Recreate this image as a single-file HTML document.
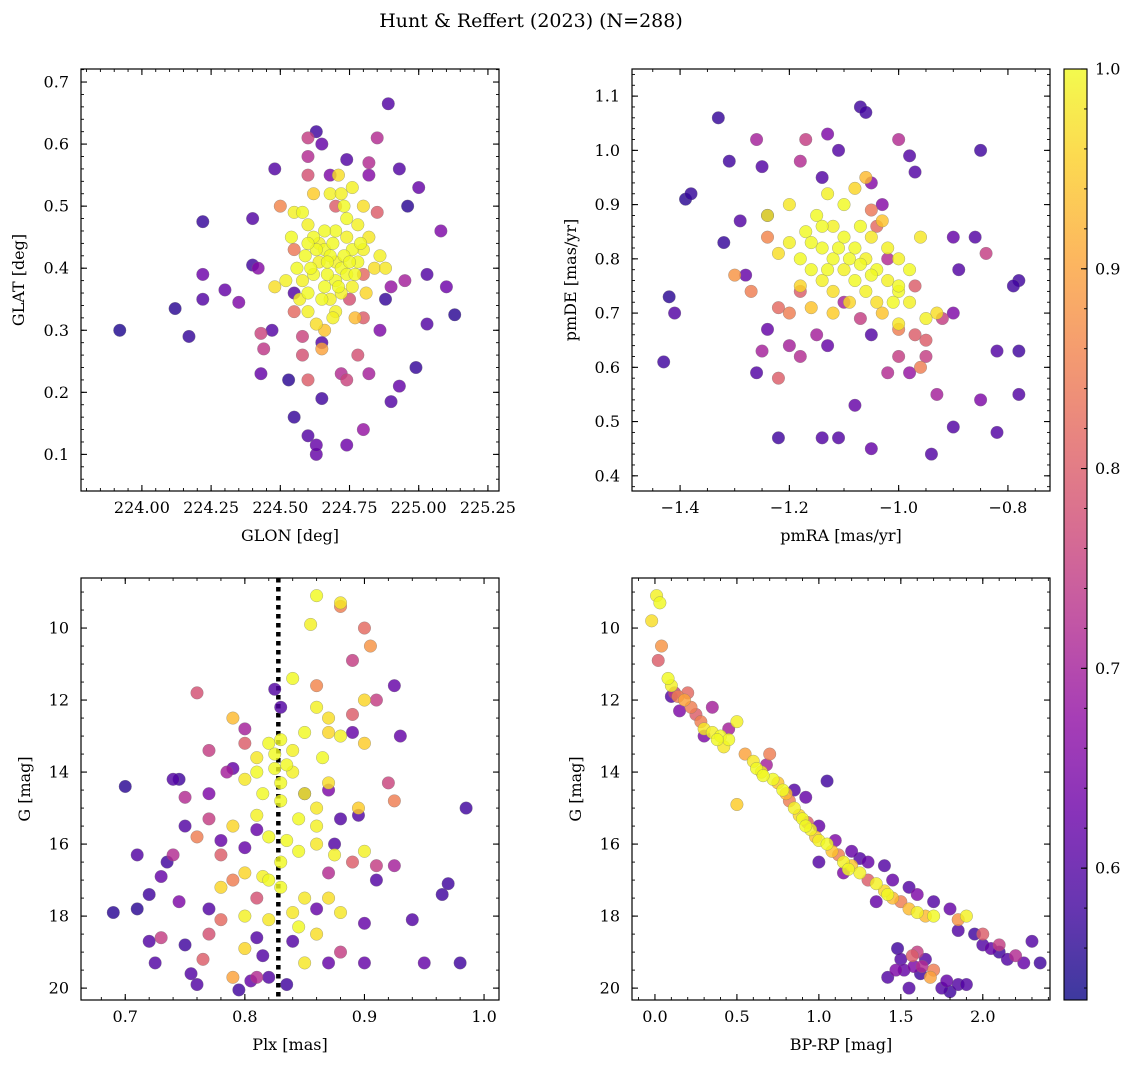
<!DOCTYPE html>
<html><head><meta charset="utf-8">
<style>
body{margin:0;background:#fff;}
svg text{font-family:"DejaVu Serif","Liberation Serif",serif;fill:#000;}
</style></head>
<body>
<svg id="chart" width="1136" height="1068" xmlns="http://www.w3.org/2000/svg">
<defs>
<linearGradient id="plasma" x1="0" y1="1" x2="0" y2="0"></linearGradient>
</defs>
<text x="531" y="27" text-anchor="middle" font-size="19">Hunt &amp; Reffert (2023) (N=288)</text>
</svg>
<script>
// ---- data: [x, y, membership probability]
const skyPoints = [[223.92,0.30,.55],[224.12,0.335,.56],[224.17,0.29,.57],[224.22,0.475,.57],[224.22,0.39,.63],[224.22,0.35,.6],[224.3,0.365,.62],[224.35,0.345,.65],[224.4,0.405,.58],[224.4,0.48,.6],[224.42,0.4,.66],[224.43,0.295,.76],[224.44,0.27,.74],[224.43,0.23,.62],[224.47,0.3,.6],[224.48,0.56,.6],[224.53,0.22,.56],[224.55,0.16,.57],[224.55,0.36,.6],[224.6,0.61,.75],[224.63,0.62,.58],[224.65,0.6,.62],[224.6,0.13,.6],[224.63,0.1,.62],[224.63,0.115,.62],[224.65,0.19,.58],[224.68,0.55,.65],[224.74,0.575,.6],[224.74,0.115,.63],[224.8,0.14,.68],[224.82,0.55,.66],[224.85,0.61,.72],[224.89,0.665,.6],[224.9,0.185,.6],[224.93,0.21,.62],[224.93,0.56,.6],[224.96,0.5,.56],[224.99,0.24,.57],[225.0,0.53,.62],[225.03,0.39,.6],[225.03,0.31,.6],[225.08,0.46,.65],[225.1,0.37,.63],[225.13,0.325,.56],[224.88,0.35,.57],[224.86,0.3,.65],[224.9,0.37,.68],[224.95,0.38,.7],[224.78,0.26,.78],[224.82,0.23,.7],[224.72,0.23,.72],[224.74,0.22,.76],[224.58,0.26,.78],[224.6,0.22,.8],[224.55,0.33,.82],[224.5,0.5,.86],[224.55,0.43,.84],[224.6,0.55,.78],[224.7,0.5,.8],[224.8,0.32,.8],[224.58,0.29,.76],[224.65,0.28,.6],[224.82,0.57,.72],[224.85,0.49,.8],[224.6,0.58,.72],[224.75,0.35,.78],[224.8,0.39,.82],
[224.58,0.49,1],[224.6,0.47,.99],[224.62,0.45,1],[224.64,0.44,.99],[224.66,0.43,1],[224.68,0.42,1],[224.7,0.41,.99],[224.72,0.4,1],[224.74,0.45,.99],[224.76,0.43,1],[224.78,0.47,.99],[224.8,0.5,.97],[224.56,0.4,1],[224.58,0.38,.99],[224.6,0.36,1],[224.62,0.39,1],[224.64,0.41,.99],[224.66,0.37,1],[224.68,0.35,.99],[224.7,0.38,1],[224.72,0.36,.99],[224.74,0.39,1],[224.76,0.37,.99],[224.78,0.41,1],[224.8,0.43,.99],[224.82,0.45,.98],[224.84,0.4,.97],[224.86,0.42,.99],[224.6,0.33,.99],[224.63,0.31,.97],[224.66,0.3,.94],[224.7,0.33,.99],[224.73,0.5,1],[224.68,0.52,.99],[224.71,0.55,.97],[224.76,0.53,.99],[224.54,0.45,1],[224.52,0.38,.99],[224.55,0.49,.99],[224.48,0.37,.97],[224.62,0.52,.95],[224.77,0.32,.93],[224.65,0.27,.9],[224.7,0.46,1],[224.74,0.48,1],[224.88,0.4,.98],[224.59,0.42,1],[224.67,0.39,1],[224.73,0.42,1],[224.81,0.36,.96],[224.63,0.43,1],[224.69,0.44,1],[224.71,0.37,1],[224.65,0.35,1],[224.75,0.41,1],[224.57,0.35,.99],[224.61,0.4,1],[224.66,0.46,1],[224.72,0.52,.99],[224.79,0.44,1],[224.69,0.32,.99],[224.77,0.39,1],[224.6,0.44,1],[224.67,0.41,1]];
const pmPoints = [[-1.42,0.73,.56],[-1.39,0.91,.56],[-1.38,0.92,.57],[-1.33,1.06,.57],[-1.32,0.83,.57],[-1.41,0.70,.6],[-1.43,0.61,.58],[-1.31,0.98,.58],[-1.29,0.87,.6],[-1.28,0.77,.62],[-1.27,0.74,.85],[-1.26,1.02,.7],[-1.25,0.97,.6],[-1.24,0.88,.6],[-1.24,0.67,.62],[-1.26,0.59,.6],[-1.25,0.63,.7],[-1.22,0.47,.58],[-1.22,0.58,.8],[-1.18,0.98,.72],[-1.17,1.02,.75],[-1.14,0.95,.6],[-1.13,1.03,.65],[-1.11,1.0,.6],[-1.07,1.08,.58],[-1.06,1.07,.58],[-1.05,0.94,.66],[-1.03,0.9,.66],[-1.0,1.02,.72],[-0.98,0.99,.6],[-0.97,0.96,.6],[-0.85,1.0,.58],[-0.86,0.84,.6],[-0.84,0.81,.75],[-0.9,0.84,.62],[-0.89,0.78,.6],[-0.9,0.7,.65],[-0.92,0.69,.75],[-0.78,0.76,.58],[-0.79,0.75,.58],[-0.78,0.63,.58],[-0.82,0.63,.6],[-0.78,0.55,.6],[-0.85,0.54,.65],[-0.82,0.48,.6],[-0.9,0.49,.6],[-0.94,0.44,.6],[-0.93,0.55,.7],[-0.95,0.62,.75],[-0.98,0.59,.68],[-1.0,0.62,.75],[-1.02,0.59,.72],[-1.05,0.45,.62],[-1.08,0.53,.62],[-1.11,0.47,.6],[-1.14,0.47,.6],[-1.13,0.64,.62],[-1.15,0.66,.7],[-1.18,0.62,.72],[-1.2,0.64,.7],[-1.2,0.7,.85],[-1.22,0.71,.82],[-1.18,0.74,.8],[-1.1,0.72,.7],[-1.07,0.69,.75],[-1.05,0.66,.6],[-1.0,0.67,.85],[-0.97,0.66,.8],[-0.95,0.65,.8],[-1.02,0.8,.72],[-1.04,0.86,.82],[-0.97,0.75,.8],[-0.96,0.6,.85],[-1.3,0.77,.88],[-1.24,0.84,.86],[-1.05,0.89,.84],
[-1.15,0.88,1],[-1.12,0.86,.99],[-1.1,0.84,1],[-1.08,0.82,1],[-1.06,0.8,.99],[-1.04,0.78,1],[-1.02,0.76,.99],[-1.0,0.74,1],[-0.98,0.72,.99],[-1.14,0.82,1],[-1.12,0.8,1],[-1.1,0.78,.99],[-1.08,0.76,1],[-1.06,0.74,.99],[-1.04,0.72,.97],[-1.16,0.78,1],[-1.14,0.76,.99],[-1.12,0.74,.97],[-1.18,0.8,1],[-1.2,0.83,.99],[-1.22,0.81,.97],[-1.1,0.9,1],[-1.08,0.93,.96],[-1.13,0.92,.99],[-1.17,0.85,1],[-1.05,0.84,.98],[-1.03,0.87,.94],[-1.0,0.8,.99],[-0.98,0.78,1],[-0.96,0.84,.98],[-0.95,0.69,.99],[-0.93,0.7,.97],[-1.0,0.68,.98],[-1.03,0.7,.94],[-1.12,0.7,.95],[-1.06,0.95,.93],[-1.24,0.88,.99],[-1.2,0.9,.98],[-1.16,0.71,.94],[-1.09,0.72,.96],[-1.0,0.75,1],[-1.14,0.86,1],[-1.07,0.86,1],[-1.02,0.82,.99],[-1.18,0.75,.96],[-1.11,0.82,1],[-1.09,0.8,1],[-1.05,0.77,1],[-1.13,0.78,1],[-1.01,0.72,1],[-1.16,0.83,1],[-1.07,0.79,1]];
const plxPoints = [[0.86,9.1,1],[0.88,9.3,.98],[0.855,9.9,.99],[0.84,11.4,1],[0.86,12.2,.99],[0.87,12.5,.97],[0.85,12.9,1],[0.87,12.9,.96],[0.82,13.2,1],[0.83,13.1,1],[0.84,13.4,.99],[0.81,13.6,.98],[0.825,13.9,1],[0.835,13.8,1],[0.84,14.0,.99],[0.8,14.2,.98],[0.815,14.6,1],[0.83,14.3,1],[0.85,14.6,.99],[0.86,15.0,.98],[0.845,15.3,1],[0.79,15.5,.96],[0.81,15.2,.99],[0.82,15.8,1],[0.835,15.9,1],[0.86,16.0,.98],[0.875,16.3,.99],[0.8,16.8,.96],[0.815,16.9,.99],[0.83,17.2,1],[0.85,17.5,.98],[0.87,17.5,.97],[0.78,17.2,.96],[0.8,18.0,.99],[0.82,18.1,.98],[0.845,18.3,1],[0.86,18.5,.97],[0.88,17.9,.98],[0.9,16.2,.99],[0.8,18.9,.96],[0.85,19.3,.98],[0.79,12.5,.93],[0.88,13.0,.99],[0.9,12.0,.96],[0.895,15.0,.95],[0.83,16.5,1],[0.86,15.5,.99],[0.84,17.9,.98],[0.87,14.3,.97],[0.9,13.2,.95],[0.825,13.5,1],[0.83,14.8,1],[0.845,16.2,1],[0.82,17.0,1],[0.865,13.6,1],[0.81,14.0,1],
[0.88,9.4,.85],[0.9,10.0,.82],[0.905,10.5,.88],[0.89,10.9,.75],[0.86,11.6,.86],[0.89,12.4,.8],[0.91,12.0,.75],[0.92,14.3,.76],[0.925,14.8,.85],[0.76,11.8,.78],[0.8,13.2,.8],[0.77,13.4,.75],[0.75,14.7,.72],[0.77,15.3,.75],[0.76,15.8,.85],[0.78,16.3,.8],[0.79,17.0,.85],[0.78,18.1,.82],[0.77,18.5,.78],[0.79,19.7,.9],[0.765,19.2,.8],[0.81,17.5,.78],[0.87,16.8,.72],[0.89,16.5,.8],[0.91,16.6,.75],[0.88,19.0,.75],[0.81,19.7,.72],[0.925,16.6,.7],[0.73,18.6,.75],[0.74,16.3,.72],
[0.69,17.9,.56],[0.71,17.8,.56],[0.71,16.3,.6],[0.7,14.4,.56],[0.72,17.4,.58],[0.72,18.7,.6],[0.725,19.3,.6],[0.73,16.9,.62],[0.735,16.5,.58],[0.74,14.2,.6],[0.745,14.2,.58],[0.75,15.5,.6],[0.745,17.6,.65],[0.75,18.8,.58],[0.755,19.6,.6],[0.76,19.9,.6],[0.77,17.8,.6],[0.78,15.9,.62],[0.785,14.0,.7],[0.79,13.9,.62],[0.8,16.1,.62],[0.81,18.6,.6],[0.795,20.05,.58],[0.805,19.8,.62],[0.815,19.1,.6],[0.82,19.7,.6],[0.825,11.7,.6],[0.83,12.2,.6],[0.835,19.9,.58],[0.84,18.7,.6],[0.85,14.6,.6],[0.86,17.8,.62],[0.87,14.5,.65],[0.88,15.3,.6],[0.895,15.2,.6],[0.9,18.2,.62],[0.91,17.0,.6],[0.925,11.6,.62],[0.93,13.0,.62],[0.94,18.1,.6],[0.95,19.3,.62],[0.965,17.4,.58],[0.97,17.1,.58],[0.98,19.3,.58],[0.985,15.0,.58],[0.87,19.3,.62],[0.9,19.3,.62],[0.875,16.0,.6],[0.89,12.9,.62],[0.81,15.6,.62],[0.77,14.6,.65],[0.8,12.8,.7]];
const cmdPoints = [[-0.02,9.8,.97],[0.01,9.1,.99],[0.03,9.3,1],[0.04,10.5,.88],[0.02,10.9,.8],[0.08,11.4,1],[0.1,11.6,.99],[0.12,11.8,.75],[0.14,11.9,.85],[0.18,12.0,.9],[0.2,11.8,.82],[0.22,12.2,.85],[0.25,12.4,.8],[0.28,12.6,.85],[0.3,12.8,.98],[0.35,12.9,.99],[0.4,13.0,1],[0.45,13.1,1],[0.42,13.3,.98],[0.5,12.6,.99],[0.55,13.5,.9],[0.6,13.7,.98],[0.62,13.9,1],[0.65,14.0,.98],[0.7,13.5,.85],[0.72,14.2,1],[0.75,14.3,.94],[0.78,14.5,1],[0.8,14.6,.93],[0.82,14.8,.85],[0.85,15.0,.99],[0.88,15.2,.96],[0.9,15.3,1],[0.93,15.4,.8],[0.95,15.6,.99],[0.98,15.8,.94],[1.0,15.9,.99],[1.05,16.0,1],[1.08,16.2,.94],[1.12,16.3,.85],[1.15,16.5,.99],[1.2,16.6,.94],[1.25,16.8,.99],[1.3,17.0,.8],[1.35,17.1,.99],[1.4,17.3,.96],[1.45,17.5,.93],[1.5,17.6,.85],[1.55,17.8,.93],[1.6,17.9,.99],[1.65,18.0,.93],[1.7,18.0,1],[1.85,18.1,.88],[1.9,18.0,.99],[2.0,18.5,.8],[2.1,18.8,.75],[2.2,19.1,.72],[0.5,14.9,.95],[0.35,12.2,.7],[0.1,11.9,.6],[0.15,12.3,.65],[0.3,13.0,.65],[0.45,12.8,.7],[0.68,13.8,.7],[0.85,14.5,.6],[0.92,14.7,.62],[1.05,14.25,.58],[1.0,15.5,.62],[1.1,15.9,.65],[1.2,16.2,.62],[1.25,16.4,.6],[1.3,16.5,.62],[1.4,16.6,.6],[1.45,17.0,.62],[1.55,17.2,.6],[1.6,17.4,.65],[1.7,17.6,.6],[1.8,17.8,.62],[1.85,18.4,.6],[1.95,18.5,.58],[2.0,18.8,.6],[2.1,19.0,.58],[2.15,19.2,.6],[2.25,19.3,.62],[2.35,19.3,.58],[2.3,18.7,.6],[2.05,18.9,.62],[1.0,16.5,.6],[1.15,16.8,.65],[1.35,17.6,.62],[0.38,13.1,1],[0.66,14.1,1],[0.92,15.5,1],[1.18,16.7,1],[1.42,17.4,1],
[1.42,19.7,.6],[1.48,18.9,.58],[1.5,19.2,.6],[1.52,19.5,.62],[1.55,20.0,.6],[1.58,19.4,.65],[1.6,19.0,.75],[1.62,19.6,.58],[1.65,19.2,.6],[1.68,19.7,.9],[1.7,19.5,.85],[1.75,20.0,.6],[1.78,19.8,.62],[1.8,20.1,.58],[1.85,19.9,.6],[1.9,19.9,.6],[1.57,19.1,.8],[1.63,19.4,.72],[1.47,19.5,.65]];
const plxCut = 0.828;
const cbTicks = [0.6,0.7,0.8,0.9,1.0];
const cMin = 0.534, cMax = 1.0;

const NS='http://www.w3.org/2000/svg';
const svg=document.getElementById('chart');
function mk(tag,attrs,parent){const e=document.createElementNS(NS,tag);for(const k in attrs)e.setAttribute(k,attrs[k]);(parent||svg).appendChild(e);return e;}
const stops=[[0,[13,8,135]],[0.1,[65,4,157]],[0.2,[106,0,168]],[0.3,[143,13,164]],[0.4,[177,42,144]],[0.5,[204,71,120]],[0.6,[225,100,98]],[0.7,[242,132,75]],[0.8,[252,166,54]],[0.9,[252,206,37]],[1,[240,249,33]]];
function plasma(t){t=Math.max(0,Math.min(1,t));for(let i=1;i<stops.length;i++){if(t<=stops[i][0]){const a=stops[i-1],b=stops[i],f=(t-a[0])/(b[0]-a[0]);return 'rgb('+a[1].map((v,j)=>Math.round(v+(b[1][j]-v)*f)).join(',')+')';}}return 'rgb(240,249,33)';}
function cnorm(c){return (c-cMin)/(cMax-cMin);}
function fmt(v,d){return (v<0?'\u2212':'')+Math.abs(v).toFixed(d);}

function panel(cfg,pts,name){
  const g=mk('g',{});
  
  
  const {L,T,R,B,x0,x1,y0,y1}=cfg;
  const sx=v=>L+(v-x0)/(x1-x0)*(R-L);
  const sy=v=>T+(v-y0)/(y1-y0)*(B-T);
  const clip='clip-'+name;
  const cp=mk('clipPath',{id:clip},g);mk('rect',{x:L,y:T,width:R-L,height:B-T},cp);
  const pg=mk('g',{'clip-path':'url(#'+clip+')'},g);
  if(cfg.vline!==undefined){const l=mk('line',{x1:sx(cfg.vline),x2:sx(cfg.vline),y1:T,y2:B,stroke:'#000','stroke-width':4.5,'stroke-dasharray':'4.5 4.5'},pg);
    
    }
  const sorted=pts.slice().sort((a,b)=>a[2]-b[2]);
  sorted.forEach(p=>{const c=mk('circle',{cx:sx(p[0]),cy:sy(p[1]),r:6.3,fill:plasma(cnorm(p[2])),'fill-opacity':0.82,stroke:'#777','stroke-width':0.5,'stroke-opacity':0.6},pg);
    
    });
  mk('rect',{x:L,y:T,width:R-L,height:B-T,fill:'none',stroke:'#000','stroke-width':1.2},g);
  const eps=1e-9;
  function ticksBetween(a,b,step){const lo=Math.min(a,b),hi=Math.max(a,b);const out=[];for(let v=Math.ceil(lo/step-eps)*step;v<=hi+eps;v+=step)out.push(+v.toFixed(6));return out;}
  ticksBetween(x0,x1,cfg.xminor).forEach(v=>{const x=sx(v);mk('line',{x1:x,x2:x,y1:B,y2:B-3,stroke:'#000','stroke-width':0.9},g);mk('line',{x1:x,x2:x,y1:T,y2:T+3,stroke:'#000','stroke-width':0.9},g);});
  ticksBetween(y0,y1,cfg.yminor).forEach(v=>{const y=sy(v);mk('line',{x1:L,x2:L+3,y1:y,y2:y,stroke:'#000','stroke-width':0.9},g);mk('line',{x1:R,x2:R-3,y1:y,y2:y,stroke:'#000','stroke-width':0.9},g);});
  ticksBetween(x0,x1,cfg.xmajor).forEach(v=>{const x=sx(v);mk('line',{x1:x,x2:x,y1:B,y2:B-6,stroke:'#000','stroke-width':1.1},g);mk('line',{x1:x,x2:x,y1:T,y2:T+6,stroke:'#000','stroke-width':1.1},g);
    const t=mk('text',{x:x,y:B+22,'text-anchor':'middle','font-size':16},g);t.textContent=fmt(v,cfg.xd);
    
    });
  ticksBetween(y0,y1,cfg.ymajor).forEach(v=>{const y=sy(v);mk('line',{x1:L,x2:L+6,y1:y,y2:y,stroke:'#000','stroke-width':1.1},g);mk('line',{x1:R,x2:R-6,y1:y,y2:y,stroke:'#000','stroke-width':1.1},g);
    const t=mk('text',{x:L-12,y:y+5.5,'text-anchor':'end','font-size':16},g);t.textContent=fmt(v,cfg.yd);
    
    });
  const xl=mk('text',{x:(L+R)/2,y:B+50,'text-anchor':'middle','font-size':16},g);xl.textContent=cfg.xlabel;
  
  
  const yl=mk('text',{x:0,y:0,'text-anchor':'middle','font-size':16,transform:'translate('+(cfg.ylx)+','+((T+B)/2)+') rotate(-90)'},g);yl.textContent=cfg.ylabel;
  
  
}
panel({L:81,T:69,R:499,B:491,x0:223.78,x1:225.29,y0:0.721,y1:0.041,xmajor:0.25,xminor:0.05,ymajor:0.1,yminor:0.02,xd:2,yd:1,xlabel:'GLON [deg]',ylabel:'GLAT [deg]',ylx:24},skyPoints,'sky-panel');
panel({L:632,T:69,R:1050,B:491,x0:-1.488,x1:-0.723,y0:1.15,y1:0.372,xmajor:0.2,xminor:0.05,ymajor:0.1,yminor:0.02,xd:1,yd:1,xlabel:'pmRA [mas/yr]',ylabel:'pmDE [mas/yr]',ylx:576},pmPoints,'proper-motion-panel');
panel({L:81,T:578,R:499,B:1000,x0:0.663,x1:1.0125,y0:8.61,y1:20.33,xmajor:0.1,xminor:0.02,ymajor:2,yminor:0.5,xd:1,yd:0,xlabel:'Plx [mas]',ylabel:'G [mag]',ylx:30,vline:plxCut},plxPoints,'parallax-panel');
panel({L:632,T:578,R:1050,B:1000,x0:-0.14,x1:2.41,y0:8.61,y1:20.33,xmajor:0.5,xminor:0.1,ymajor:2,yminor:0.5,xd:1,yd:0,xlabel:'BP-RP [mag]',ylabel:'G [mag]',ylx:581},cmdPoints,'cmd-panel');

const cb=mk('g',{});


const grad=document.getElementById('plasma');
for(let i=0;i<=20;i++){mk('stop',{offset:(i/20),'stop-color':plasma(i/20)},grad);}
const cT=69,cB=1000,cL=1064,cR=1087;
mk('rect',{x:cL,y:cT,width:cR-cL,height:cB-cT,fill:'url(#plasma)','fill-opacity':0.8},cb);
mk('rect',{x:cL,y:cT,width:cR-cL,height:cB-cT,fill:'none',stroke:'#000','stroke-width':1.1},cb);
const cy=v=>cB-(v-cMin)/(cMax-cMin)*(cB-cT);
for(let v=0.54;v<=1.0001;v+=0.02){const y=cy(v);mk('line',{x1:cR,x2:cR-3,y1:y,y2:y,stroke:'#000','stroke-width':0.9},cb);}
cbTicks.forEach(v=>{const y=cy(v);mk('line',{x1:cR,x2:cR-6,y1:y,y2:y,stroke:'#000','stroke-width':1.1},cb);
  const t=mk('text',{x:cR+8,y:y+5.5,'font-size':16},cb);t.textContent=v.toFixed(1);
  
  });
</script>
</body></html>
